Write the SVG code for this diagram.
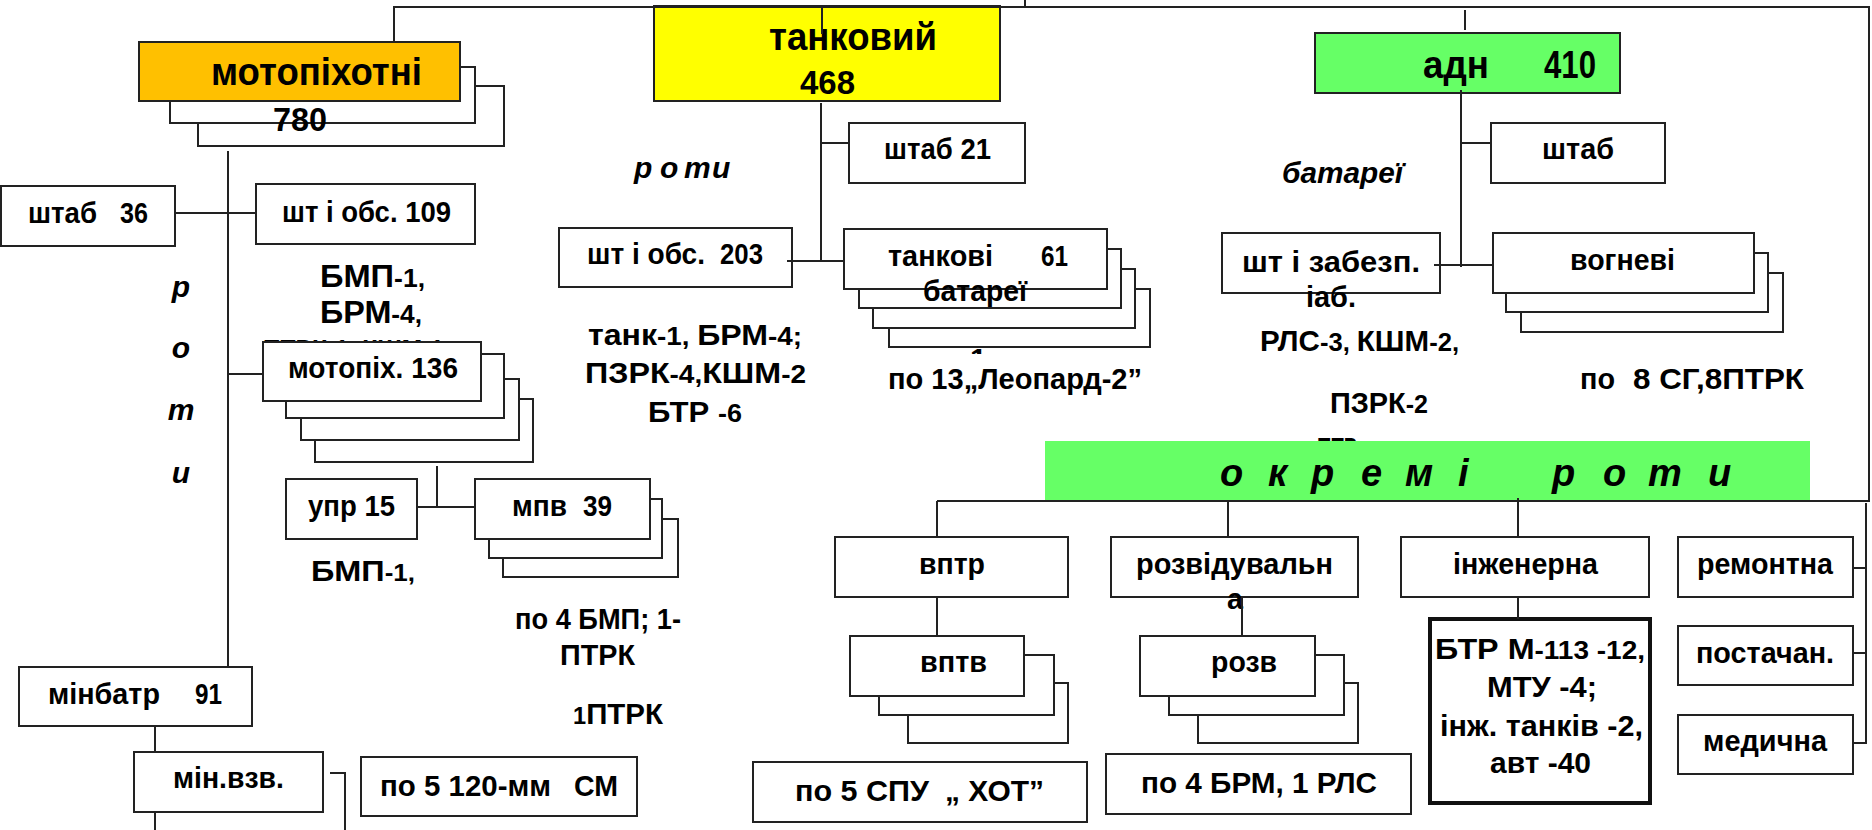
<svg xmlns="http://www.w3.org/2000/svg" width="1872" height="830" viewBox="0 0 1872 830">
<style>
.b{fill:#fff;stroke:#222;stroke-width:2}
.c{fill:none;stroke:#222;stroke-width:2}
.t{font-family:"Liberation Sans",Arial,sans-serif;font-weight:bold;fill:#000;font-size:30px}
.h{font-size:39px}
.n{font-size:33px}
.i{font-style:italic}
</style>
<defs>
<clipPath id="clip1"><rect x="950" y="340" width="50" height="14"/></clipPath>
</defs>
<rect width="1872" height="830" fill="#fff"/>

<g id="notes">
<text class="t" x="320" y="287" textLength="105" lengthAdjust="spacingAndGlyphs"><tspan font-size="32">БМП</tspan><tspan font-size="26">-1,</tspan></text>
<text class="t" x="320" y="323" textLength="102" lengthAdjust="spacingAndGlyphs"><tspan font-size="32">БРМ</tspan><tspan font-size="26">-4,</tspan></text>
<text class="t" x="263" y="360" textLength="181" lengthAdjust="spacingAndGlyphs">ПТРК-1, КШМ-1</text>
<text class="t i" x="181" y="297" text-anchor="middle">р</text>
<text class="t i" x="181" y="358" text-anchor="middle">о</text>
<text class="t i" x="181" y="420" text-anchor="middle">т</text>
<text class="t i" x="181" y="483" text-anchor="middle">и</text>
<text class="t" x="311" y="581" textLength="104" lengthAdjust="spacingAndGlyphs"><tspan font-size="30">БМП</tspan><tspan font-size="24">-1,</tspan></text>
<text class="t" x="515" y="629" textLength="166" lengthAdjust="spacingAndGlyphs">по 4 БМП; 1-</text>
<text class="t" x="560" y="665" textLength="75" lengthAdjust="spacingAndGlyphs">ПТРК</text>
<text class="t" x="573" y="724" textLength="90" lengthAdjust="spacingAndGlyphs"><tspan font-size="24">1</tspan>ПТРК</text>
<text class="t i" x="634 660 684 712" y="178">роти</text>
<text class="t" x="588" y="345" textLength="214" lengthAdjust="spacingAndGlyphs">танк<tspan font-size="26">-1, </tspan>БРМ<tspan font-size="26">-4;</tspan></text>
<text class="t" x="585" y="383" textLength="221" lengthAdjust="spacingAndGlyphs">ПЗРК<tspan font-size="26">-4,</tspan>КШМ<tspan font-size="26">-2</tspan></text>
<text class="t" x="648" y="422" textLength="94" lengthAdjust="spacingAndGlyphs">БТР <tspan font-size="26">-6</tspan></text>
<text class="t" x="970" y="369" clip-path="url(#clip1)">1</text>
<text class="t" x="888" y="389" textLength="254" lengthAdjust="spacingAndGlyphs">по 13„Леопард-2”</text>
<text class="t i" x="1282" y="183" textLength="121" lengthAdjust="spacingAndGlyphs">батареї</text>
<text class="t" x="1260" y="351" textLength="199" lengthAdjust="spacingAndGlyphs">РЛС<tspan font-size="26">-3, </tspan>КШМ<tspan font-size="26">-2,</tspan></text>
<text class="t" x="1330" y="413" textLength="98" lengthAdjust="spacingAndGlyphs">ПЗРК<tspan font-size="26">-2</tspan></text>
<text class="t" x="1317" y="458" textLength="40" lengthAdjust="spacingAndGlyphs">ПТР</text>
<text class="t" x="1580" y="389" textLength="35" lengthAdjust="spacingAndGlyphs">по</text>
<text class="t" x="1633" y="389" textLength="171" lengthAdjust="spacingAndGlyphs">8 СГ,8ПТРК</text>
</g>

<g id="motopikh">
<rect class="b" x="198" y="86" width="306" height="60"/>
<rect class="b" x="170" y="67" width="305" height="56"/>
<rect x="139" y="42" width="321" height="59" fill="#FFC000" stroke="#222" stroke-width="2"/>
<text class="t h" x="211" y="85" textLength="211" lengthAdjust="spacingAndGlyphs">мотопіхотні</text>
<text class="t n" x="273" y="131" textLength="54" lengthAdjust="spacingAndGlyphs">780</text>
</g>

<g id="tank">
<rect x="654" y="6" width="346" height="95" fill="#FFFF00" stroke="#222" stroke-width="2"/>
<text class="t h" x="769" y="50" textLength="168" lengthAdjust="spacingAndGlyphs">танковий</text>
<text class="t n" x="800" y="94" textLength="55" lengthAdjust="spacingAndGlyphs">468</text>
</g>

<g id="adn">
<rect x="1315" y="33" width="305" height="60" fill="#66FF66" stroke="#222" stroke-width="2"/>
<text class="t h" x="1423" y="78" textLength="66" lengthAdjust="spacingAndGlyphs">адн</text>
<text class="t h" x="1544" y="78" textLength="52" lengthAdjust="spacingAndGlyphs">410</text>
</g>

<g id="shtab36">
<rect class="b" x="1" y="186" width="174" height="60"/>
<text class="t" x="28" y="223" textLength="69" lengthAdjust="spacingAndGlyphs">штаб</text>
<text class="t" x="120" y="223" textLength="28" lengthAdjust="spacingAndGlyphs">36</text>
</g>

<g id="shtobs109">
<rect class="b" x="256" y="184" width="219" height="60"/>
<text class="t" x="282" y="222" textLength="169" lengthAdjust="spacingAndGlyphs">шт і обс. 109</text>
</g>

<g id="motopikh136">
<rect class="b" x="315" y="399" width="218" height="63"/>
<rect class="b" x="301" y="379" width="218" height="61"/>
<rect class="b" x="286" y="354" width="218" height="64"/>
<rect class="b" x="263" y="342" width="218" height="59"/>
<text class="t" x="288" y="378" textLength="170" lengthAdjust="spacingAndGlyphs">мотопіх. 136</text>
</g>

<g id="upr15">
<rect class="b" x="286" y="479" width="131" height="60"/>
<text class="t" x="308" y="516" textLength="87" lengthAdjust="spacingAndGlyphs">упр 15</text>
</g>

<g id="mpv39">
<rect class="b" x="503" y="519" width="175" height="58"/>
<rect class="b" x="489" y="499" width="173" height="59"/>
<rect class="b" x="475" y="479" width="175" height="60"/>
<text class="t" x="512" y="516" textLength="55" lengthAdjust="spacingAndGlyphs">мпв</text>
<text class="t" x="583" y="516" textLength="29" lengthAdjust="spacingAndGlyphs">39</text>
</g>

<g id="minbatr">
<rect class="b" x="19" y="667" width="233" height="59"/>
<text class="t" x="48" y="704" textLength="112" lengthAdjust="spacingAndGlyphs">мінбатр</text>
<text class="t" x="195" y="704" textLength="27" lengthAdjust="spacingAndGlyphs">91</text>
</g>

<g id="minvzv">
<rect class="b" x="134" y="752" width="189" height="60"/>
<text class="t" x="173" y="788" textLength="111" lengthAdjust="spacingAndGlyphs">мін.взв.</text>
</g>

<g id="po5sm">
<rect class="b" x="361" y="757" width="276" height="59"/>
<text class="t" x="380" y="796" textLength="171" lengthAdjust="spacingAndGlyphs">по 5 120-мм</text>
<text class="t" x="574" y="796" textLength="44" lengthAdjust="spacingAndGlyphs">СМ</text>
</g>

<g id="shtab21">
<rect class="b" x="849" y="123" width="176" height="60"/>
<text class="t" x="884" y="159" textLength="107" lengthAdjust="spacingAndGlyphs">штаб 21</text>
</g>

<g id="shtobs203">
<rect class="b" x="559" y="228" width="233" height="59"/>
<text class="t" x="587" y="264" textLength="118" lengthAdjust="spacingAndGlyphs">шт і обс.</text>
<text class="t" x="720" y="264" textLength="43" lengthAdjust="spacingAndGlyphs">203</text>
</g>

<g id="tankbat">
<rect class="b" x="889" y="289" width="261" height="58"/>
<rect class="b" x="873" y="269" width="262" height="59"/>
<rect class="b" x="859" y="249" width="262" height="59"/>
<rect class="b" x="844" y="229" width="263" height="60"/>
<text class="t" x="888" y="266" textLength="105" lengthAdjust="spacingAndGlyphs">танкові</text>
<text class="t" x="1041" y="266" textLength="27" lengthAdjust="spacingAndGlyphs">61</text>
<text class="t" x="923" y="301" textLength="104" lengthAdjust="spacingAndGlyphs">батареї</text>
</g>

<g id="shtab_adn">
<rect class="b" x="1491" y="123" width="174" height="60"/>
<text class="t" x="1542" y="159" textLength="72" lengthAdjust="spacingAndGlyphs">штаб</text>
</g>

<g id="shtzab">
<rect class="b" x="1222" y="233" width="218" height="60"/>
<text class="t" x="1242" y="272" textLength="178" lengthAdjust="spacingAndGlyphs">шт і забезп.</text>
<text class="t" x="1306" y="307" textLength="50" lengthAdjust="spacingAndGlyphs">іаб.</text>
</g>

<g id="vogn">
<rect class="b" x="1521" y="273" width="262" height="59"/>
<rect class="b" x="1506" y="253" width="262" height="59"/>
<rect class="b" x="1493" y="233" width="261" height="60"/>
<text class="t" x="1570" y="270" textLength="105" lengthAdjust="spacingAndGlyphs">вогневі</text>
</g>

<g id="band">
<rect x="1045" y="441" width="765" height="61" fill="#66FF66"/>
<text class="t i" style="font-size:38px" x="1220 1268 1311 1361 1405 1458 1500 1552 1603 1648 1708" y="486">окремі роти</text>
</g>

<g id="vptr">
<rect class="b" x="835" y="537" width="233" height="60"/>
<text class="t" x="919" y="574" textLength="66" lengthAdjust="spacingAndGlyphs">вптр</text>
</g>

<g id="vptv">
<rect class="b" x="908" y="683" width="160" height="60"/>
<rect class="b" x="879" y="655" width="175" height="60"/>
<rect class="b" x="850" y="636" width="174" height="60"/>
<text class="t" x="920" y="672" textLength="67" lengthAdjust="spacingAndGlyphs">вптв</text>
</g>

<g id="hot">
<rect class="b" x="753" y="762" width="334" height="60"/>
<text class="t" x="795" y="801" textLength="134" lengthAdjust="spacingAndGlyphs">по 5 СПУ</text>
<text class="t" x="945" y="801" textLength="99" lengthAdjust="spacingAndGlyphs">„ ХОТ”</text>
</g>

<g id="rozvid">
<rect class="b" x="1111" y="537" width="247" height="60"/>
<text class="t" x="1136" y="574" textLength="197" lengthAdjust="spacingAndGlyphs">розвідувальн</text>
<text class="t" x="1227" y="609" textLength="16" lengthAdjust="spacingAndGlyphs">а</text>
</g>

<g id="rozv">
<rect class="b" x="1198" y="683" width="160" height="60"/>
<rect class="b" x="1169" y="655" width="175" height="60"/>
<rect class="b" x="1140" y="636" width="175" height="60"/>
<text class="t" x="1211" y="672" textLength="66" lengthAdjust="spacingAndGlyphs">розв</text>
</g>

<g id="brm">
<rect class="b" x="1106" y="754" width="305" height="60"/>
<text class="t" x="1141" y="793" textLength="236" lengthAdjust="spacingAndGlyphs">по 4 БРМ, 1 РЛС</text>
</g>

<g id="inzh">
<rect class="b" x="1401" y="537" width="248" height="60"/>
<text class="t" x="1453" y="574" textLength="145" lengthAdjust="spacingAndGlyphs">інженерна</text>
</g>

<g id="btr">
<rect x="1430" y="619" width="220" height="184" fill="#fff" stroke="#111" stroke-width="4"/>
<text class="t" x="1435" y="659" textLength="210" lengthAdjust="spacingAndGlyphs">БТР М<tspan font-size="26">-113 -12,</tspan></text>
<text class="t" x="1487" y="697" textLength="110" lengthAdjust="spacingAndGlyphs">МТУ -4;</text>
<text class="t" x="1440" y="736" textLength="203" lengthAdjust="spacingAndGlyphs">інж. танків -2,</text>
<text class="t" x="1490" y="773" textLength="101" lengthAdjust="spacingAndGlyphs">авт -40</text>
</g>

<g id="remont">
<rect class="b" x="1678" y="537" width="175" height="60"/>
<text class="t" x="1697" y="574" textLength="136" lengthAdjust="spacingAndGlyphs">ремонтна</text>
</g>

<g id="post">
<rect class="b" x="1678" y="626" width="175" height="59"/>
<text class="t" x="1696" y="663" textLength="138" lengthAdjust="spacingAndGlyphs">постачан.</text>
</g>

<g id="med">
<rect class="b" x="1678" y="715" width="175" height="59"/>
<text class="t" x="1703" y="751" textLength="124" lengthAdjust="spacingAndGlyphs">медична</text>
</g>

<g id="connectors" class="c">
<polyline points="394,42 394,7 1869,7 1869,501 937,501"/>
<line x1="1025" y1="0" x2="1025" y2="8"/>
<line x1="822" y1="7" x2="822" y2="34"/>
<line x1="228" y1="151" x2="228" y2="667"/>
<line x1="175" y1="213" x2="256" y2="213"/>
<line x1="228" y1="374" x2="263" y2="374"/>
<line x1="437" y1="466" x2="437" y2="507"/>
<line x1="417" y1="507" x2="475" y2="507"/>
<line x1="155" y1="726" x2="155" y2="752"/>
<line x1="155" y1="812" x2="155" y2="830"/>
<polyline points="330,773 345,773 345,830"/>
<line x1="821" y1="103" x2="821" y2="261"/>
<line x1="821" y1="143" x2="849" y2="143"/>
<line x1="787" y1="261" x2="844" y2="261"/>
<line x1="1465" y1="10" x2="1465" y2="30"/>
<line x1="1461" y1="90" x2="1461" y2="267"/>
<line x1="1461" y1="143" x2="1491" y2="143"/>
<line x1="1434" y1="265" x2="1493" y2="265"/>
<line x1="937" y1="501" x2="937" y2="537"/>
<line x1="1228" y1="501" x2="1228" y2="537"/>
<line x1="1518" y1="498" x2="1518" y2="537"/>
<line x1="937" y1="597" x2="937" y2="636"/>
<line x1="1242" y1="597" x2="1242" y2="636"/>
<line x1="1518" y1="597" x2="1518" y2="619"/>
<line x1="1866" y1="503" x2="1866" y2="744"/>
<line x1="1853" y1="568" x2="1866" y2="568"/>
<line x1="1853" y1="653" x2="1866" y2="653"/>
<line x1="1853" y1="743" x2="1866" y2="743"/>
</g>
</svg>
